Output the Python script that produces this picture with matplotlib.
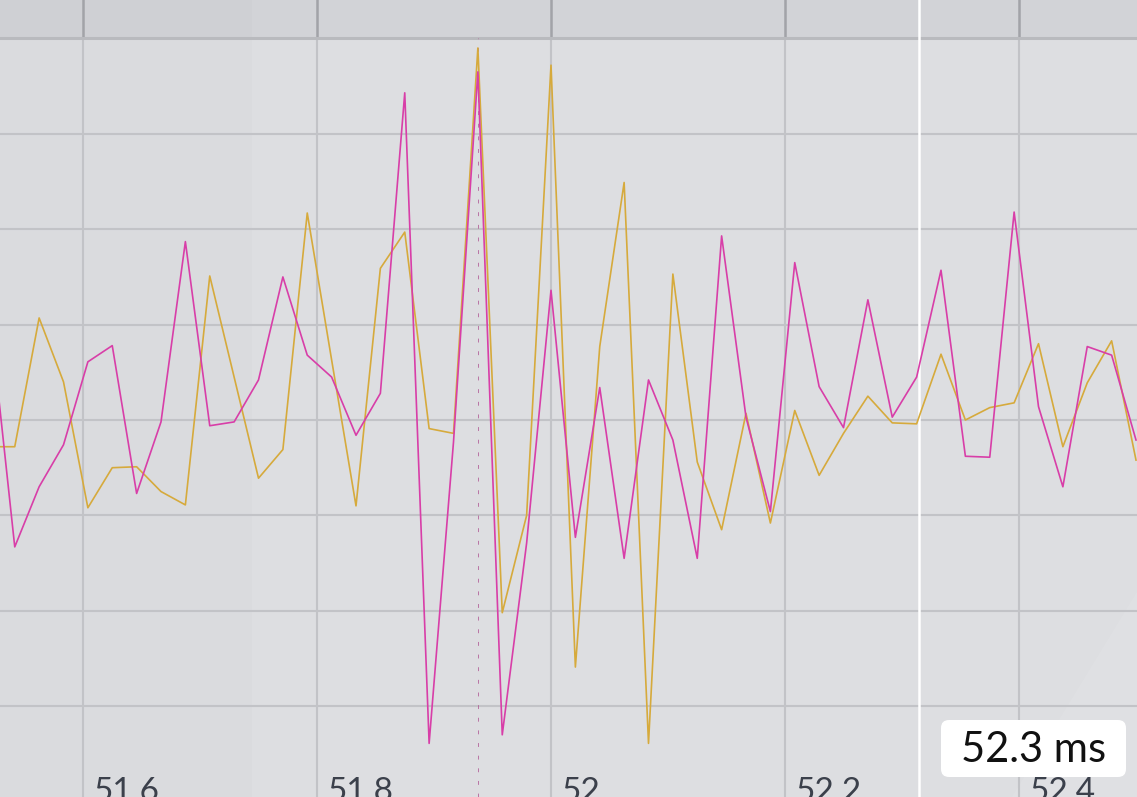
import numpy as np
import matplotlib
matplotlib.use("Agg")
import matplotlib.pyplot as plt
from matplotlib.patches import FancyBboxPatch, Polygon
from matplotlib.transforms import IdentityTransform

# sample index at 48 kHz (time in ms = n / 48)
sample_start = 2473
gold = [-0.028, -0.028, 0.107, 0.040, -0.092, -0.050, -0.049, -0.075, -0.089, 0.151,
        0.045, -0.061, -0.031, 0.217, 0.063, -0.090, 0.159, 0.197, -0.009, -0.014,
        0.390, -0.202, -0.100, 0.372, -0.259, 0.077, 0.249, -0.339, 0.153, -0.044,
        -0.115, 0.007, -0.108, 0.010, -0.058, -0.014, 0.025, -0.003, -0.004, 0.069,
        0.000, 0.013, 0.018, 0.080, -0.028, 0.039, 0.083, -0.042]
magenta = [0.105, -0.133, -0.070, -0.026, 0.061, 0.078, -0.077, -0.002, 0.187, -0.006,
           -0.002, 0.042, 0.150, 0.068, 0.045, -0.016, 0.028, 0.343, -0.339, -0.023,
           0.365, -0.330, -0.129, 0.136, -0.123, 0.034, -0.145, 0.042, -0.021, -0.145,
           0.193, 0.003, -0.096, 0.165, 0.035, -0.008, 0.126, 0.003, 0.045, 0.157,
           -0.038, -0.039, 0.218, 0.014, -0.070, 0.077, 0.068, -0.021]
xticks = [51.6, 51.8, 52.0, 52.2, 52.4]
xtick_labels = ["51.6", "51.8", "52", "52.2", "52.4"]
ygrid = [-0.3, -0.2, -0.1, 0.0, 0.1, 0.2, 0.3]
cursor_time = 52.3145
marker_time = 51.9375
cursor_label = "52.3 ms"

t = (sample_start + np.arange(len(gold))) / 48.0

W, H = 1137, 797
fig = plt.figure(figsize=(W / 100, H / 100), dpi=100, facecolor="#dddee1")
ax = fig.add_axes([0, 0, 1, 1])
ax.set_facecolor("#dddee1")
ax.set_xlim(51.52906, 52.50085)
ax.set_ylim(-0.3952, 0.4403)
for s in ax.spines.values():
    s.set_visible(False)
ax.set_xticks([])
ax.set_yticks([])

band = (0.4 + 0.3952) / 0.8355  # axes fraction of the ruler band edge

# selection shade on the left
ax.axvspan(51.52906, 51.7444, color="black", alpha=0.012, lw=0, zorder=0)
# top ruler band
ax.axhspan(0.4, 0.4403, color="#d2d3d7", lw=0, zorder=0.5)
ax.axvspan(51.52906, 51.7444, ymin=band, color="black", alpha=0.012, lw=0, zorder=0.6)

# faint lighter corner at bottom right
ax.add_patch(Polygon([[1137, 205], [1137, 0], [1012, 0]], closed=True, transform=IdentityTransform(),
                     fc="white", alpha=0.08, lw=0, zorder=0.4))

for y in ygrid:
    ax.axhline(y, color="#c2c3c7", lw=1.5, zorder=1)
for x in xticks:
    ax.axvline(x, ymax=band, color="#c2c3c7", lw=1.5, zorder=1)
    ax.axvline(x, ymin=band, color="#a2a3a8", lw=1.8, zorder=1)
ax.axhline(0.4, color="#b9babe", lw=2.2, zorder=1.2)

ax.axvline(cursor_time, color="white", lw=1.8, zorder=2.5)
ax.axvline(marker_time, ymax=band, color="#b05a95", lw=0.7,
           ls=(0, (4, 9)), alpha=0.8, zorder=2)

ax.plot(t, gold, color="#d6aa3c", lw=1.2, zorder=3)
ax.plot(t, magenta, color="#d83ea8", lw=1.2, zorder=4)

for x, lab in zip(xticks, xtick_labels):
    ax.text(x + 0.0085, -0.3952 - 0.004, lab, fontsize=24, family="Lato", color="#3b404b",
            ha="left", va="baseline", zorder=6)

ax.add_patch(FancyBboxPatch((941, 797 - 777), 185, 57, boxstyle="round,pad=0,rounding_size=8",
                            transform=IdentityTransform(), fc="white", ec="none", zorder=7))
ax.text(1034, 797 - 750, cursor_label, transform=IdentityTransform(), fontsize=30,
        family="Lato", color="#111111", ha="center", va="center", zorder=8)

fig.savefig("out.png", dpi=100, facecolor=fig.get_facecolor())
